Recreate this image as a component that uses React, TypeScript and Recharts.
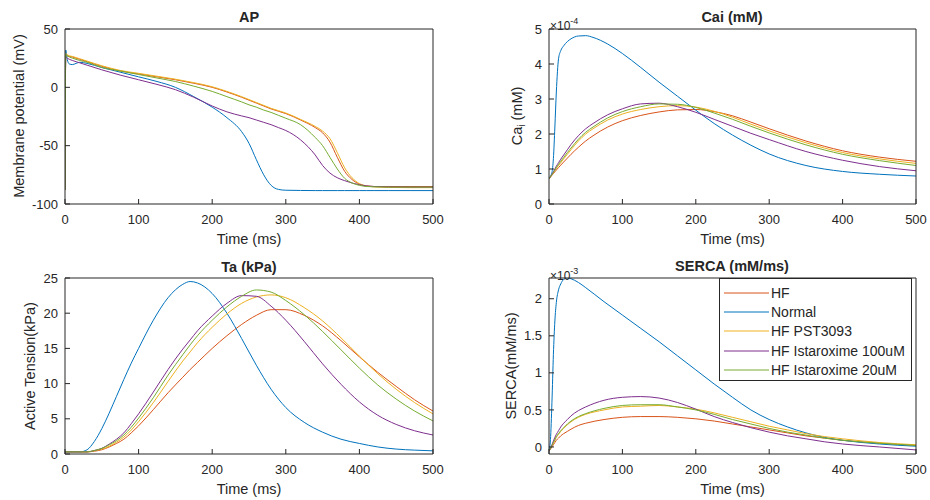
import React from 'react';
import { LineChart, Line, XAxis, YAxis, Legend } from 'recharts';

// Time axis shared by all four panels (ms)
const xTicks = [0, 100, 200, 300, 400, 500];

// --- AP (mV) ---
const apTime = [0, 1, 3, 6, 10, 15, 20, 30, 50, 75, 100, 125, 150, 175, 200, 220, 240, 250, 260, 270, 280, 290, 300, 320, 340, 350, 360, 370, 380, 390, 400, 410, 420, 440, 470, 500];
const apHF = [-88, 27, 27, 26.5, 26, 25, 24, 22, 18, 14, 11.5, 9, 6.5, 3.5, 0, -4, -8.5, -11, -13.5, -16, -18.5, -20.5, -22.5, -28, -34.5, -39, -47, -60, -72, -79, -83, -84.7, -85, -85, -85, -85];
const apNormal = [-88, 32, 24, 20, 19.5, 20.5, 21.5, 20.5, 17, 13, 9, 5, 0, -8, -17, -26, -38, -48, -62, -75, -84, -87.5, -88.2, -88.4, -88.5, -88.5, -88.5, -88.5, -88.5, -88.5, -88.5, -88.5, -88.5, -88.5, -88.5, -88.5];
const apPST = [-88, 29, 28, 27, 26.5, 25.5, 24.5, 22.5, 18.5, 14.5, 12, 9.5, 7, 4, 0.5, -3.5, -8, -10.5, -13, -15.5, -18, -20, -22, -27.5, -33.5, -37.5, -44, -56, -69, -77.5, -82.5, -84.5, -85.3, -85.8, -86, -86];
const apIsta100 = [-88, 26, 25, 24, 23, 22, 21, 19, 15, 10.5, 6.5, 2.5, -2, -8.5, -16, -21, -24.5, -26, -28, -30, -32, -34.5, -37, -45, -58, -67, -73.5, -77.5, -80, -82, -83.5, -84.5, -85, -85.3, -85.5, -85.5];
const apIsta20 = [-88, 28, 27, 26, 25, 24, 23, 21.5, 17, 14, 11, 8, 5, 1, -3.5, -8, -12.5, -15, -17, -19.5, -21.5, -24, -26.5, -32, -43, -50, -60, -70, -78, -82, -84, -85, -85.3, -85.5, -85.5, -85.5];

// --- Cai (x1e-4 mM) ---
const caiTime = [0, 2, 4, 6, 8, 10, 13, 16, 20, 25, 30, 40, 50, 60, 80, 100, 125, 150, 175, 200, 225, 250, 275, 300, 350, 400, 450, 500];
const caiHF = [0.72, 0.77, 0.82, 0.87, 0.92, 0.97, 1.04, 1.11, 1.2, 1.31, 1.42, 1.62, 1.8, 1.95, 2.2, 2.38, 2.53, 2.63, 2.69, 2.7, 2.64, 2.52, 2.34, 2.15, 1.8, 1.52, 1.34, 1.22];
const caiNormal = [0.72, 0.8, 0.9, 1.3, 2.2, 3.2, 4.15, 4.38, 4.52, 4.64, 4.72, 4.8, 4.81, 4.76, 4.57, 4.3, 3.9, 3.48, 3.08, 2.68, 2.3, 1.97, 1.68, 1.43, 1.1, 0.93, 0.85, 0.8];
const caiPST = [0.72, 0.78, 0.84, 0.9, 0.96, 1.02, 1.1, 1.18, 1.29, 1.42, 1.55, 1.8, 2.0, 2.15, 2.4, 2.57, 2.7, 2.78, 2.81, 2.77, 2.65, 2.48, 2.28, 2.09, 1.75, 1.47, 1.29, 1.16];
const caiIsta100 = [0.72, 0.78, 0.85, 0.92, 1.0, 1.08, 1.18, 1.28, 1.4, 1.55, 1.7, 1.95, 2.15, 2.3, 2.55, 2.72, 2.86, 2.88, 2.78, 2.62, 2.42, 2.22, 2.02, 1.84, 1.5, 1.25, 1.07, 0.95];
const caiIsta20 = [0.72, 0.78, 0.84, 0.9, 0.97, 1.04, 1.13, 1.22, 1.33, 1.47, 1.6, 1.85, 2.05, 2.2, 2.46, 2.64, 2.78, 2.86, 2.85, 2.76, 2.6, 2.42, 2.22, 2.03, 1.69, 1.42, 1.24, 1.1];

// --- Ta (kPa) ---
const taTime = [0, 20, 30, 40, 50, 60, 70, 80, 90, 100, 120, 140, 160, 170, 180, 200, 220, 240, 260, 280, 300, 325, 350, 375, 400, 425, 450, 475, 500];
const taHF = [0.3, 0.3, 0.3, 0.4, 0.6, 1.0, 1.5, 2.1, 3.0, 4.0, 6.3, 8.7, 10.9, 12.0, 13.0, 15.0, 16.8, 18.4, 19.7, 20.5, 20.5, 19.7, 18.2, 16.1, 13.8, 11.6, 9.6, 7.7, 6.1];
const taNormal = [0.3, 0.3, 0.6, 1.8, 3.6, 5.8, 8.2, 10.6, 12.9, 15.0, 19.0, 22.2, 24.1, 24.5, 24.3, 22.8, 20.0, 16.4, 12.6, 9.2, 6.6, 4.5, 3.1, 2.1, 1.5, 1.0, 0.7, 0.55, 0.45];
const taPST = [0.3, 0.3, 0.3, 0.45, 0.7, 1.1, 1.7, 2.4, 3.4, 4.6, 7.3, 10.3, 13.2, 14.5, 15.8, 18.0, 19.9, 21.4, 22.3, 22.6, 22.2, 20.8, 18.9, 16.5, 13.9, 11.4, 9.2, 7.3, 5.7];
const taIsta100 = [0.3, 0.3, 0.3, 0.5, 0.8, 1.4, 2.1, 3.0, 4.3, 5.7, 8.8, 12.0, 14.9, 16.2, 17.5, 19.6, 21.4, 22.5, 22.4, 21.0, 19.0, 16.0, 12.8, 9.9, 7.4, 5.5, 4.2, 3.3, 2.7];
const taIsta20 = [0.3, 0.3, 0.3, 0.5, 0.8, 1.3, 1.9, 2.7, 3.8, 5.1, 8.0, 11.2, 14.1, 15.5, 16.8, 19.0, 20.9, 22.4, 23.3, 23.0, 21.8, 19.8, 17.4, 14.8, 12.2, 9.8, 7.8, 6.1, 4.7];

// --- SERCA (x1e-3 mM/ms) ---
const sercaTime = [0, 2, 4, 6, 8, 10, 13, 16, 20, 25, 30, 40, 50, 75, 100, 125, 150, 175, 200, 225, 250, 275, 300, 325, 350, 375, 400, 450, 500];
const sercaHF = [-0.05, -0.03, 0.0, 0.03, 0.06, 0.09, 0.12, 0.15, 0.18, 0.21, 0.24, 0.29, 0.32, 0.37, 0.4, 0.41, 0.41, 0.4, 0.38, 0.35, 0.31, 0.27, 0.23, 0.19, 0.15, 0.12, 0.09, 0.05, 0.02];
const sercaNormal = [-0.05, 0.1, 0.6, 1.25, 1.7, 1.95, 2.12, 2.2, 2.26, 2.28, 2.27, 2.22, 2.15, 1.96, 1.78, 1.6, 1.42, 1.23, 1.04, 0.85, 0.67, 0.5, 0.37, 0.27, 0.19, 0.13, 0.09, 0.04, 0.01];
const sercaPST = [-0.05, -0.02, 0.02, 0.05, 0.09, 0.13, 0.17, 0.21, 0.25, 0.3, 0.34, 0.4, 0.44, 0.5, 0.54, 0.55, 0.56, 0.54, 0.51, 0.46, 0.4, 0.34, 0.28, 0.23, 0.18, 0.14, 0.11, 0.06, 0.03];
const sercaIsta100 = [-0.05, -0.02, 0.03, 0.08, 0.13, 0.17, 0.22, 0.27, 0.32, 0.37, 0.42, 0.49, 0.54, 0.63, 0.67, 0.68, 0.66, 0.6, 0.51, 0.41, 0.33, 0.26, 0.2, 0.15, 0.11, 0.07, 0.04, 0.0, -0.04];
const sercaIsta20 = [-0.05, -0.02, 0.02, 0.06, 0.1, 0.14, 0.18, 0.22, 0.26, 0.31, 0.35, 0.41, 0.45, 0.52, 0.56, 0.57, 0.57, 0.54, 0.5, 0.44, 0.37, 0.31, 0.25, 0.2, 0.16, 0.12, 0.09, 0.05, 0.02];

const SERIES = [
  { key: 'HF', name: 'HF', color: '#D95319' },
  { key: 'Normal', name: 'Normal', color: '#0072BD' },
  { key: 'PST', name: 'HF PST3093', color: '#EDB120' },
  { key: 'Ista100', name: 'HF Istaroxime 100uM', color: '#7E2F8E' },
  { key: 'Ista20', name: 'HF Istaroxime 20uM', color: '#77AC30' },
];

const FONT = '"Liberation Sans", Arial, Helvetica, sans-serif';
const INK = '#262626';
const W = 465;
const H = 250;

const buildRows = (time: number[], cols: number[][]) =>
  time.map((t, i) => {
    const row: Record<string, number> = { t };
    SERIES.forEach((s, k) => {
      row[s.key] = cols[k][i];
    });
    return row;
  });

const LegendBox = () => (
  <div
    style={{
      width: 191,
      height: 97,
      border: `1px solid ${INK}`,
      background: '#fff',
      paddingTop: 4,
      boxSizing: 'content-box',
      fontFamily: FONT,
      fontSize: 14,
      color: INK,
    }}
  >
    {SERIES.map((s) => (
      <div key={s.key} style={{ height: 19.3, display: 'flex', alignItems: 'center', whiteSpace: 'nowrap' }}>
        <svg width={51} height={4} style={{ flex: 'none' }}>
          <line x1={4} x2={49} y1={2} y2={2} stroke={s.color} strokeWidth={1} />
        </svg>
        <span>{s.name}</span>
      </div>
    ))}
  </div>
);

type PanelProps = {
  left: number;
  top: number;
  plotLeft: number;
  plotRight: number;
  plotTop: number;
  time: number[];
  cols: number[][];
  yDomain: [number, number];
  yTicks: number[];
  legend?: boolean;
};

const Panel = ({ left, top, plotLeft, plotRight, plotTop, time, cols, yDomain, yTicks, legend }: PanelProps) => {
  const data = buildRows(time, cols);
  const tickStyle = { fontSize: 13, fill: INK, fontFamily: FONT };
  // axes of 1px size: margins are the plot box minus that pixel
  return (
    <div style={{ position: 'absolute', left, top, width: W, height: H }}>
      <LineChart
        width={W}
        height={H}
        data={data}
        margin={{ top: plotTop - 1, right: W - plotRight - 1, bottom: 0, left: plotLeft - 1 }}
      >
        <XAxis
          dataKey="t"
          type="number"
          domain={[0, 500]}
          ticks={xTicks}
          height={46}
          stroke={INK}
          tickSize={-5}
          tickMargin={16}
          tick={tickStyle}
          allowDataOverflow
          label={{ value: 'Time (ms)', position: 'insideBottom', offset: 6, style: { fontSize: 14.5, fill: INK, fontFamily: FONT } }}
        />
        <XAxis
          xAxisId="top"
          orientation="top"
          dataKey="t"
          type="number"
          domain={[0, 500]}
          ticks={xTicks}
          height={1}
          stroke={INK}
          tickSize={-5}
          tick={false}
        />
        <YAxis
          type="number"
          domain={yDomain}
          ticks={yTicks}
          width={1}
          stroke={INK}
          tickSize={-5}
          tickMargin={12}
          tick={tickStyle}
          allowDataOverflow
        />
        <YAxis
          yAxisId="right"
          orientation="right"
          type="number"
          domain={yDomain}
          ticks={yTicks}
          width={1}
          stroke={INK}
          tickSize={-5}
          tick={false}
        />
        {SERIES.map((s) => (
          <Line
            key={s.key}
            dataKey={s.key}
            name={s.name}
            stroke={s.color}
            strokeWidth={1}
            dot={false}
            type="monotone"
            isAnimationActive={false}
          />
        ))}
        {legend && (
          <Legend
            layout="horizontal"
            verticalAlign="middle"
            align="center"
            wrapperStyle={{ left: 254, top: 28, width: 193, height: 101 }}
            content={() => <LegendBox />}
          />
        )}
      </LineChart>
    </div>
  );
};

const Title = ({ x, y, text }: { x: number; y: number; text: string }) => (
  <div
    style={{
      position: 'absolute',
      left: x,
      top: y,
      transform: 'translate(-50%, -50%)',
      fontWeight: 'bold',
      fontSize: 14.5,
      whiteSpace: 'nowrap',
    }}
  >
    {text}
  </div>
);

const YLabel = ({ x, y, children }: { x: number; y: number; children: React.ReactNode }) => (
  <div
    style={{
      position: 'absolute',
      left: x,
      top: y,
      transform: 'translate(-50%, -50%) rotate(-90deg)',
      fontSize: 14.5,
      whiteSpace: 'nowrap',
    }}
  >
    {children}
  </div>
);

const Exponent = ({ x, y, exp }: { x: number; y: number; exp: string }) => (
  <div style={{ position: 'absolute', left: x, top: y, fontSize: 12, whiteSpace: 'nowrap', lineHeight: '12px' }}>
    ×10<sup style={{ fontSize: 9, verticalAlign: 6 }}>{exp}</sup>
  </div>
);

export default function App() {
  return (
    <div
      style={{
        position: 'absolute',
        left: 0,
        top: 0,
        width: 930,
        height: 500,
        background: '#fff',
        fontFamily: FONT,
        color: INK,
        overflow: 'hidden',
      }}
    >
      <Panel
        left={0}
        top={0}
        plotLeft={65}
        plotRight={433}
        plotTop={29}
        time={apTime}
        cols={[apHF, apNormal, apPST, apIsta100, apIsta20]}
        yDomain={[-100, 50]}
        yTicks={[-100, -50, 0, 50]}
      />
      <Panel
        left={465}
        top={0}
        plotLeft={84}
        plotRight={451}
        plotTop={29}
        time={caiTime}
        cols={[caiHF, caiNormal, caiPST, caiIsta100, caiIsta20]}
        yDomain={[0, 5]}
        yTicks={[0, 1, 2, 3, 4, 5]}
      />
      <Panel
        left={0}
        top={250}
        plotLeft={65}
        plotRight={433}
        plotTop={28}
        time={taTime}
        cols={[taHF, taNormal, taPST, taIsta100, taIsta20]}
        yDomain={[0, 25]}
        yTicks={[0, 5, 10, 15, 20, 25]}
      />
      <Panel
        left={465}
        top={250}
        plotLeft={84}
        plotRight={451}
        plotTop={28}
        time={sercaTime}
        cols={[sercaHF, sercaNormal, sercaPST, sercaIsta100, sercaIsta20]}
        yDomain={[-0.095, 2.28]}
        yTicks={[0, 0.5, 1, 1.5, 2]}
        legend
      />

      <Title x={249} y={17} text="AP" />
      <Title x={732} y={17} text="Cai (mM)" />
      <Title x={249} y={267} text="Ta (kPa)" />
      <Title x={732} y={266} text="SERCA (mM/ms)" />

      <YLabel x={19} y={116}>Membrane potential (mV)</YLabel>
      <YLabel x={518} y={116}>
        Ca<sub style={{ fontSize: 10 }}>i</sub> (mM)
      </YLabel>
      <YLabel x={30} y={366}>Active Tension(kPa)</YLabel>
      <YLabel x={511} y={366}>SERCA(mM/ms)</YLabel>

      <Exponent x={550} y={15} exp="-4" />
      <Exponent x={550} y={265} exp="-3" />
    </div>
  );
}
